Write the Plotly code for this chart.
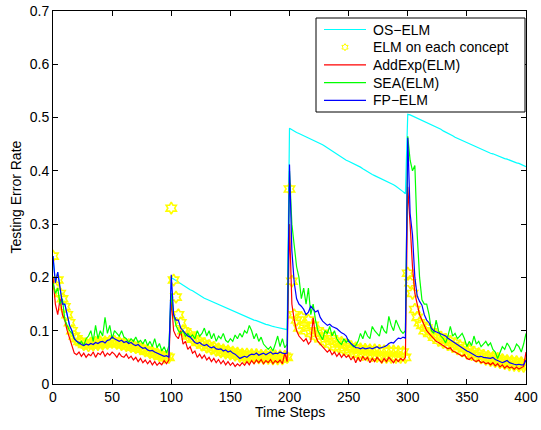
import math
import plotly.graph_objects as go

# Time steps (every second step)
time_steps = list(range(0, 401, 2))

# FP-ELM
fp_elm = [
    0.24, 0.19, 0.21, 0.18, 0.15, 0.15, 0.13, 0.11, 0.10, 0.085,
    0.08, 0.078, 0.074, 0.072, 0.075, 0.073, 0.076, 0.074, 0.078, 0.076,
    0.079, 0.08, 0.077, 0.082, 0.083, 0.088, 0.085, 0.082, 0.080, 0.082,
    0.078, 0.080, 0.076, 0.078, 0.074, 0.072, 0.074, 0.070, 0.067, 0.068,
    0.064, 0.062, 0.063, 0.060, 0.058, 0.056, 0.055, 0.052, 0.053, 0.050,
    0.205, 0.13, 0.12, 0.12, 0.105, 0.10, 0.095, 0.09, 0.088, 0.082,
    0.078, 0.076, 0.078, 0.074, 0.072, 0.074, 0.070, 0.068, 0.070, 0.066,
    0.065, 0.066, 0.062, 0.064, 0.060, 0.062, 0.058, 0.056, 0.052, 0.048,
    0.050, 0.052, 0.050, 0.054, 0.056, 0.055, 0.058, 0.054, 0.056, 0.058,
    0.055, 0.057, 0.060, 0.056, 0.058, 0.057, 0.060, 0.058, 0.057, 0.058,
    0.412, 0.25, 0.19, 0.16, 0.15, 0.146, 0.14, 0.13, 0.135, 0.146,
    0.14, 0.135, 0.138, 0.125, 0.118, 0.114, 0.11, 0.112, 0.108, 0.106,
    0.104, 0.10, 0.096, 0.094, 0.09, 0.08, 0.076, 0.072, 0.068, 0.068,
    0.066, 0.068, 0.066, 0.067, 0.068, 0.066, 0.068, 0.070, 0.067, 0.068,
    0.070, 0.072, 0.076, 0.078, 0.077, 0.082, 0.086, 0.085, 0.088, 0.086,
    0.462, 0.32, 0.28, 0.20, 0.165, 0.155, 0.148, 0.13, 0.12, 0.115,
    0.105, 0.10, 0.098, 0.095, 0.093, 0.092, 0.09, 0.086, 0.083, 0.08,
    0.076, 0.074, 0.07, 0.067, 0.064, 0.062, 0.06, 0.057, 0.055, 0.052,
    0.051, 0.052, 0.05, 0.049, 0.048, 0.048, 0.05, 0.046, 0.044, 0.042,
    0.04, 0.042, 0.044, 0.04, 0.038, 0.037, 0.036, 0.037, 0.036, 0.036,
    0.045,
]

# OS-ELM (identical to FP-ELM on the first concept)
os_elm_after = [
    0.200, 0.197, 0.194, 0.191, 0.189, 0.186, 0.183, 0.180, 0.177, 0.175,
    0.172, 0.169, 0.166, 0.164, 0.161, 0.159, 0.157, 0.155, 0.153, 0.151,
    0.149, 0.147, 0.145, 0.143, 0.141, 0.139, 0.137, 0.135, 0.133, 0.131,
    0.129, 0.127, 0.126, 0.124, 0.122, 0.120, 0.119, 0.117, 0.115, 0.114,
    0.112, 0.111, 0.109, 0.108, 0.107, 0.106, 0.105, 0.104, 0.103, 0.102,
    0.480, 0.477, 0.474, 0.472, 0.470, 0.468, 0.466, 0.464, 0.462, 0.460,
    0.458, 0.456, 0.453, 0.451, 0.449, 0.446, 0.443, 0.440, 0.437, 0.434,
    0.431, 0.428, 0.425, 0.422, 0.420, 0.418, 0.416, 0.414, 0.412, 0.410,
    0.407, 0.404, 0.401, 0.398, 0.396, 0.393, 0.391, 0.389, 0.387, 0.385,
    0.382, 0.380, 0.378, 0.376, 0.374, 0.371, 0.368, 0.365, 0.361, 0.357,
    0.506, 0.505, 0.503, 0.501, 0.499, 0.497, 0.495, 0.493, 0.491, 0.489,
    0.487, 0.485, 0.483, 0.480, 0.478, 0.475, 0.473, 0.471, 0.468, 0.466,
    0.463, 0.461, 0.459, 0.456, 0.454, 0.452, 0.450, 0.448, 0.446, 0.444,
    0.442, 0.440, 0.438, 0.436, 0.435, 0.433, 0.432, 0.430, 0.428, 0.427,
    0.425, 0.423, 0.422, 0.420, 0.419, 0.417, 0.415, 0.414, 0.412, 0.410,
    0.408,
]
os_elm = fp_elm[:50] + os_elm_after

# ELM on each concept
elm_each = [
    0.24, 0.185, 0.195, 0.17, 0.16, 0.145, 0.13, 0.115, 0.10, 0.09,
    0.085, 0.08, 0.078, 0.074, 0.076, 0.072, 0.077, 0.073, 0.078, 0.074,
    0.079, 0.075, 0.079, 0.076, 0.08, 0.078, 0.08, 0.076, 0.078, 0.074,
    0.076, 0.072, 0.074, 0.07, 0.072, 0.068, 0.07, 0.066, 0.066, 0.062,
    0.063, 0.059, 0.06, 0.056, 0.057, 0.053, 0.054, 0.05, 0.052, 0.05,
    0.33, 0.195, 0.163, 0.13, 0.115, 0.10, 0.098, 0.09, 0.092, 0.084,
    0.085, 0.078, 0.08, 0.073, 0.076, 0.069, 0.072, 0.066, 0.069, 0.063,
    0.066, 0.06, 0.064, 0.058, 0.062, 0.056, 0.06, 0.054, 0.058, 0.052,
    0.056, 0.05, 0.056, 0.05, 0.055, 0.049, 0.055, 0.049, 0.054, 0.048,
    0.054, 0.048, 0.054, 0.047, 0.053, 0.047, 0.053, 0.047, 0.052, 0.05,
    0.366, 0.193, 0.13, 0.12, 0.105, 0.125, 0.11, 0.10, 0.12, 0.095,
    0.11, 0.09, 0.10, 0.085, 0.095, 0.08, 0.09, 0.075, 0.085, 0.07,
    0.08, 0.068, 0.078, 0.065, 0.074, 0.062, 0.07, 0.058, 0.068, 0.056,
    0.066, 0.055, 0.065, 0.054, 0.064, 0.053, 0.064, 0.052, 0.063, 0.05,
    0.062, 0.05, 0.062, 0.05, 0.062, 0.05, 0.061, 0.05, 0.06, 0.05,
    0.208, 0.19, 0.17, 0.14, 0.125, 0.115, 0.11, 0.10, 0.105, 0.095,
    0.098, 0.088, 0.092, 0.082, 0.088, 0.078, 0.084, 0.074, 0.08, 0.07,
    0.076, 0.066, 0.072, 0.062, 0.068, 0.058, 0.064, 0.055, 0.06, 0.052,
    0.057, 0.049, 0.054, 0.046, 0.052, 0.044, 0.05, 0.042, 0.048, 0.04,
    0.046, 0.038, 0.044, 0.036, 0.043, 0.035, 0.042, 0.034, 0.04, 0.033,
    0.038,
]

# AddExp(ELM)
addexp = [
    0.20, 0.15, 0.13, 0.16, 0.13, 0.12, 0.10, 0.085, 0.07, 0.058,
    0.055, 0.06, 0.052, 0.058, 0.05, 0.056, 0.053, 0.06, 0.05, 0.058,
    0.055, 0.062, 0.052, 0.058, 0.054, 0.06, 0.056, 0.05, 0.058, 0.052,
    0.05, 0.056, 0.048, 0.052, 0.045, 0.05, 0.042, 0.048, 0.04, 0.045,
    0.038, 0.044, 0.036, 0.042, 0.035, 0.04, 0.036, 0.044, 0.038, 0.045,
    0.16, 0.10, 0.09, 0.085, 0.10, 0.075, 0.08, 0.065, 0.07, 0.058,
    0.062, 0.05, 0.056, 0.048, 0.054, 0.045, 0.05, 0.042, 0.048, 0.04,
    0.046, 0.038, 0.044, 0.036, 0.042, 0.035, 0.04, 0.033, 0.038, 0.034,
    0.04, 0.035, 0.042, 0.036, 0.044, 0.038, 0.045, 0.04, 0.046, 0.038,
    0.044, 0.04, 0.046, 0.038, 0.044, 0.04, 0.045, 0.038, 0.058, 0.042,
    0.30, 0.15, 0.12, 0.10, 0.09, 0.085, 0.08, 0.085, 0.075, 0.08,
    0.124, 0.09, 0.08, 0.075, 0.07, 0.065, 0.06, 0.064, 0.055, 0.06,
    0.052, 0.058, 0.05, 0.056, 0.05, 0.054, 0.045, 0.052, 0.04, 0.05,
    0.042, 0.052, 0.045, 0.05, 0.04, 0.048, 0.042, 0.05, 0.044, 0.04,
    0.048, 0.042, 0.05, 0.044, 0.04, 0.047, 0.042, 0.048, 0.044, 0.05,
    0.37, 0.30, 0.22, 0.17, 0.15, 0.13, 0.12, 0.11, 0.10, 0.095,
    0.09, 0.085, 0.08, 0.078, 0.075, 0.072, 0.07, 0.066, 0.068, 0.062,
    0.06, 0.058, 0.055, 0.052, 0.055, 0.048, 0.046, 0.05, 0.044, 0.042,
    0.045, 0.04, 0.042, 0.038, 0.04, 0.036, 0.04, 0.034, 0.038, 0.032,
    0.036, 0.03, 0.034, 0.03, 0.032, 0.028, 0.032, 0.028, 0.03, 0.033,
    0.06,
]

# SEA(ELM)
sea = [
    0.19, 0.17, 0.18, 0.15, 0.16, 0.12, 0.11, 0.10, 0.095, 0.085,
    0.08, 0.075, 0.08, 0.072, 0.085, 0.09, 0.10, 0.08, 0.11, 0.085,
    0.10, 0.09, 0.125, 0.095, 0.11, 0.085, 0.10, 0.095, 0.09, 0.10,
    0.088, 0.085, 0.078, 0.085, 0.08, 0.088, 0.078, 0.082, 0.075, 0.084,
    0.072, 0.08, 0.07, 0.085, 0.068, 0.076, 0.062, 0.07, 0.058, 0.072,
    0.17, 0.13, 0.11, 0.10, 0.095, 0.10, 0.09, 0.095, 0.088, 0.092,
    0.085, 0.10, 0.09, 0.095, 0.105, 0.09, 0.10, 0.085, 0.095, 0.08,
    0.09, 0.085, 0.095, 0.082, 0.078, 0.085, 0.08, 0.092, 0.085, 0.095,
    0.088, 0.10, 0.095, 0.11, 0.10, 0.085, 0.095, 0.08, 0.088, 0.075,
    0.07, 0.065, 0.07, 0.062, 0.075, 0.09, 0.07, 0.085, 0.068, 0.075,
    0.40, 0.30, 0.26, 0.22, 0.20, 0.16, 0.18, 0.15, 0.18, 0.13,
    0.15, 0.12, 0.10, 0.09, 0.083, 0.10, 0.095, 0.108, 0.09, 0.10,
    0.085, 0.078, 0.074, 0.085, 0.078, 0.083, 0.075, 0.07, 0.072, 0.08,
    0.095, 0.085, 0.10, 0.09, 0.085, 0.108, 0.10, 0.095, 0.09, 0.11,
    0.10, 0.095, 0.127, 0.11, 0.10, 0.12, 0.11, 0.10, 0.095, 0.10,
    0.465, 0.42, 0.40, 0.41, 0.28, 0.20, 0.158, 0.15, 0.15, 0.13,
    0.10, 0.095, 0.12, 0.10, 0.09, 0.085, 0.077, 0.09, 0.108, 0.09,
    0.095, 0.085, 0.09, 0.095, 0.085, 0.07, 0.08, 0.072, 0.09, 0.075,
    0.08, 0.07, 0.075, 0.08, 0.072, 0.077, 0.065, 0.06, 0.048, 0.06,
    0.07, 0.065, 0.077, 0.07, 0.06, 0.064, 0.075, 0.07, 0.06, 0.075,
    0.095,
]

series_names = ["OS\u2212ELM", "ELM on each concept", "AddExp(ELM)", "SEA(ELM)", "FP\u2212ELM"]
series_colors = ["#00FFFF", "#FFFF00", "#FF0000", "#00FF00", "#0000FF"]
series_values = [os_elm, elm_each, addexp, sea, fp_elm]
series_is_marker = [False, True, False, False, False]

x_ticks = [0, 50, 100, 150, 200, 250, 300, 350, 400]
y_ticks = [0, 0.1, 0.2, 0.3, 0.4, 0.5, 0.6, 0.7]
y_tick_labels = ["0", "0.1", "0.2", "0.3", "0.4", "0.5", "0.6", "0.7"]

font_family = "Liberation Sans, Arial, Helvetica, sans-serif"
FONT_SIZE = 14
LINE_W = 1.2

# figure geometry (pixels)
W, H = 541, 430
M_L, M_R, M_T, M_B = 53, 15, 11, 46
PW, PH = W - M_L - M_R, H - M_T - M_B


def px_to_paper_x(px):
    return (px - M_L) / PW


def px_to_paper_y(py):
    return (H - M_B - py) / PH


fig = go.Figure()
for name, color, vals, is_marker in zip(series_names, series_colors, series_values, series_is_marker):
    if is_marker:
        fig.add_trace(go.Scatter(x=time_steps, y=vals, mode="markers", name=name, showlegend=False,
                                 hoverinfo="skip",
                                 marker=dict(symbol="hexagram-open", color=color, size=9,
                                             line=dict(color=color, width=1.6))))
    else:
        fig.add_trace(go.Scatter(x=time_steps, y=vals, mode="lines", name=name, showlegend=False,
                                 hoverinfo="skip",
                                 line=dict(color=color, width=LINE_W)))

# ---- legend box drawn like MATLAB's ----
LEG_X0, LEG_X1, LEG_Y0, LEG_Y1 = 316, 525, 18, 112
ROW0, ROW_STEP = 29.5, 17.7
LINE_X0, LINE_X1, TEXT_X = 324, 366, 371
shapes = [dict(type="rect", xref="paper", yref="paper",
               x0=px_to_paper_x(LEG_X0), x1=px_to_paper_x(LEG_X1),
               y0=px_to_paper_y(LEG_Y1), y1=px_to_paper_y(LEG_Y0),
               line=dict(color="black", width=1), fillcolor="white", layer="above")]
annotations = []
for i, (name, color, is_marker) in enumerate(zip(series_names, series_colors, series_is_marker)):
    ry = px_to_paper_y(ROW0 + i * ROW_STEP)
    if is_marker:
        R = 3.6
        r = R / math.sqrt(3)
        pts = []
        for k in range(12):
            ang = math.pi / 2 + k * math.pi / 6
            rad = R if k % 2 == 0 else r
            pts.append((rad * math.cos(ang), rad * math.sin(ang)))
        path = "M " + " L ".join(f"{x:.2f},{y:.2f}" for x, y in pts) + " Z"
        shapes.append(dict(type="path", xref="paper", yref="paper",
                           xsizemode="pixel", ysizemode="pixel",
                           xanchor=px_to_paper_x((LINE_X0 + LINE_X1) / 2), yanchor=ry,
                           path=path, line=dict(color=color, width=1), layer="above"))
    else:
        shapes.append(dict(type="line", xref="paper", yref="paper",
                           x0=px_to_paper_x(LINE_X0), x1=px_to_paper_x(LINE_X1), y0=ry, y1=ry,
                           line=dict(color=color, width=LINE_W), layer="above"))
    annotations.append(dict(xref="paper", yref="paper", x=px_to_paper_x(TEXT_X), y=ry,
                            xanchor="left", yanchor="middle", text=name, showarrow=False,
                            font=dict(family=font_family, size=FONT_SIZE, color="black")))

# axis titles placed like MATLAB's
annotations.append(dict(xref="paper", yref="paper", x=0.5, y=px_to_paper_y(412),
                        xanchor="center", yanchor="middle", text="Time Steps", showarrow=False,
                        font=dict(family=font_family, size=FONT_SIZE, color="black")))
annotations.append(dict(xref="paper", yref="paper", x=px_to_paper_x(15), y=0.5,
                        xanchor="center", yanchor="middle", text="Testing Error Rate",
                        textangle=-90, showarrow=False,
                        font=dict(family=font_family, size=FONT_SIZE, color="black")))

axis_common = dict(
    showline=True, linecolor="black", linewidth=1, mirror="allticks",
    ticks="inside", ticklen=5, tickcolor="black", showgrid=False, zeroline=False,
    automargin=False,
    tickfont=dict(family=font_family, size=FONT_SIZE, color="black"),
)

fig.update_layout(
    width=W, height=H,
    margin=dict(l=M_L, r=M_R, t=M_T, b=M_B),
    paper_bgcolor="white", plot_bgcolor="white",
    font=dict(family=font_family, size=FONT_SIZE, color="black"),
    xaxis=dict(range=[0, 400], tickmode="array", tickvals=x_ticks, **axis_common),
    yaxis=dict(range=[0, 0.7], tickmode="array", tickvals=y_ticks, ticktext=y_tick_labels,
               **axis_common),
    shapes=shapes,
    annotations=annotations,
    showlegend=False,
    hovermode=False,
)

fig.write_html("out.html", config={"displayModeBar": False},
               post_script="document.body.style.margin='0px';")
